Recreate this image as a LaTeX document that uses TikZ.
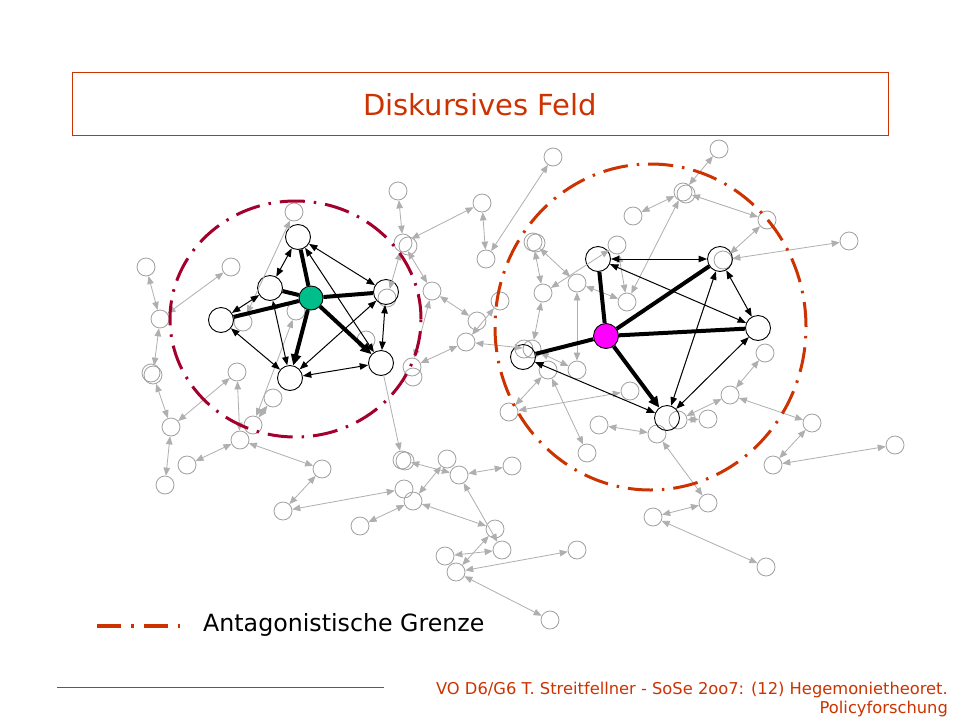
\documentclass[tikz,border=0pt]{standalone}
\usepackage{fontspec}
\setmainfont{DejaVu Sans}
\usetikzlibrary{arrows.meta}
\definecolor{orng}{RGB}{204,51,0}
\definecolor{crim}{RGB}{163,0,45}
\definecolor{gline}{RGB}{175,175,175}
\definecolor{gnod}{RGB}{160,160,160}
\definecolor{hubgreen}{RGB}{0,190,140}
\definecolor{hubmag}{RGB}{255,0,255}
\begin{document}
\begin{tikzpicture}[x=1pt,y=-1pt,
  gnode/.style={circle, draw=gnod, line width=0.8pt, minimum size=18pt, inner sep=0pt},
  bnode/.style={circle, draw=black, line width=0.9pt, minimum size=25pt, inner sep=0pt},
  hubnode/.style={circle, draw=black, line width=0.9pt, minimum size=24pt, inner sep=0pt},
  gedge/.style={draw=gline, line width=0.8pt, {Triangle[length=8pt,width=6.5pt]}-{Triangle[length=8pt,width=6.5pt]}},
  gedgeone/.style={draw=gline, line width=0.8pt, -{Triangle[length=8pt,width=6.5pt]}},
  tedge/.style={draw=black, line width=1pt, {Triangle[length=8.5pt,width=6.5pt]}-{Triangle[length=8.5pt,width=6.5pt]}},
  kedge/.style={draw=black, line width=4pt},
  kedgea/.style={draw=black, line width=4pt, -{Triangle[length=11pt,width=10pt]}},
  bound/.style={line width=3pt, dash pattern=on 25pt off 9pt on 2.5pt off 9pt},
  titlefont/.style={font=\fontsize{29pt}{34pt}\selectfont, text=orng},
  legendfont/.style={font=\fontsize{23.7pt}{28pt}\selectfont, text=black},
  footfont/.style={font=\fontsize{16.3pt}{19pt}\selectfont, text=orng}
]
\useasboundingbox (0,0) rectangle (960,720);
\fill[white] (0,0) rectangle (960,720);

% ---------- gray nodes ----------
\node[gnode] (a1) at (146,267) {};
\node[gnode] (a2) at (231,267) {};
\node[gnode] (a3) at (160,319) {};
\node[gnode] (a4) at (153,375) {};
\node[gnode] (a4x) at (151,373) {};
\node[gnode] (a5) at (171,427) {};
\node[gnode] (a6) at (165,485) {};
\node[gnode] (a7) at (237,372) {};
\node[gnode] (a8) at (273,398) {};
\node[gnode] (a9) at (253,425) {};
\node[gnode] (a10) at (240,440) {};
\node[gnode] (a11) at (187,465) {};
\node[gnode] (a12) at (322,469) {};
\node[gnode] (a13) at (283,511) {};
\node[gnode] (a14) at (294,212) {};
\node[gnode] (a15) at (243,322) {};
\node[gnode] (a16) at (296,311) {};
\node[gnode] (a17) at (387,298) {};
\node[gnode] (a18) at (366,340) {};
\node[gnode] (a19) at (412,367) {};
\node[gnode] (a19x) at (413,377) {};

\node[gnode] (m1) at (398,191) {};
\node[gnode] (m2) at (403,243) {};
\node[gnode] (m2x) at (408,246) {};
\node[gnode] (m3) at (482,203) {};
\node[gnode] (m4) at (486,259) {};
\node[gnode] (m5) at (432,291) {};
\node[gnode] (m6) at (477,321) {};
\node[gnode] (m7) at (466,342) {};
\node[gnode] (m8) at (500,301) {};
\node[gnode] (m9) at (402,460) {};
\node[gnode] (m9x) at (405,461) {};
\node[gnode] (m10) at (447,459) {};
\node[gnode] (m11) at (459,475) {};
\node[gnode] (m12) at (512,466) {};
\node[gnode] (m13) at (404,489) {};
\node[gnode] (m14) at (413,501) {};
\node[gnode] (m15) at (360,526) {};
\node[gnode] (m16) at (495,529) {};
\node[gnode] (m17) at (502,550) {};
\node[gnode] (m18) at (445,556) {};
\node[gnode] (m19) at (456,572) {};
\node[gnode] (m20) at (577,550) {};
\node[gnode] (m21) at (550,620) {};

\node[gnode] (r1) at (553,157) {};
\node[gnode] (r2) at (719,149) {};
\node[gnode] (r3) at (683,192) {};
\node[gnode] (r3x) at (686,194) {};
\node[gnode] (r4) at (633,216) {};
\node[gnode] (r5) at (767,220) {};
\node[gnode] (r6) at (849,241) {};
\node[gnode] (r7) at (723,260) {};
\node[gnode] (r8) at (533,242) {};
\node[gnode] (r8x) at (536,243) {};
\node[gnode] (r9) at (617,245) {};
\node[gnode] (r10) at (543,293) {};
\node[gnode] (r11) at (577,283) {};
\node[gnode] (r12) at (627,302) {};
\node[gnode] (r13) at (524,349) {};
\node[gnode] (r13x) at (532,349) {};
\node[gnode] (r14) at (548,370) {};
\node[gnode] (r15) at (577,370) {};
\node[gnode] (r16) at (630,391) {};
\node[gnode] (r17) at (509,412) {};
\node[gnode] (r18) at (730,395) {};
\node[gnode] (r19) at (765,353) {};
\node[gnode] (r20) at (599,425) {};
\node[gnode] (r21) at (657,434) {};
\node[gnode] (r22) at (678,420) {};
\node[gnode] (r23) at (708,419) {};
\node[gnode] (r24) at (587,453) {};
\node[gnode] (r25) at (812,423) {};
\node[gnode] (r26) at (773,465) {};
\node[gnode] (r27) at (895,445) {};
\node[gnode] (r28) at (708,503) {};
\node[gnode] (r29) at (653,517) {};
\node[gnode] (r30) at (766,567) {};

% ---------- black nodes ----------
\node[bnode] (lt) at (298,237) {};
\node[bnode] (lul) at (270,288) {};
\node[bnode] (ll) at (221,320) {};
\node[hubnode, fill=hubgreen] (lc) at (311,298) {};
\node[bnode] (lr) at (386,292) {};
\node[bnode] (lbr) at (381,363) {};
\node[bnode] (lb) at (290,378) {};

\node[bnode] (pl) at (598,259) {};
\node[bnode] (pr) at (720,259) {};
\node[bnode] (rr) at (758,328) {};
\node[bnode, fill=hubmag] (rc) at (606,336) {};
\node[bnode] (lln) at (523,357) {};
\node[bnode] (bb) at (667,418) {};

% ---------- gray edges ----------
\foreach \p/\q in {a1/a3, a2/a3, a3/a4, a4/a5, a5/a6, a7/a5, a7/a10, a10/a11, a10/a12,
  a12/a13, a13/m13, a14/a15, a16/a9, a8/a9,
  m1/m2, m3/m2, m3/m4, r1/m4, m2/m5, m2/a17, m5/m6, m5/a19, m7/a19, m8/m7, m7/r13x,
  m9/m11, m11/m12, m11/m17, m15/m14, m14/m10, m14/m16, m16/m19, m18/m17, m19/m20, m19/m21,
  r2/r3, r3/r4, r3/r5, r5/r7, r6/r7, r3/r12, r8/r10, r8/r11, r9/r12, r9/r10, r11/r15,
  r11/r12, r10/r13x, r13x/r15, r14/r17, r14/r24, r16/r17, r20/r21, r22/r23, r22/r18,
  r19/r18, r18/r25, r25/r26, r26/r27, r21/r28, r28/r29, r29/r30}
  {\draw[gedge] (\p) -- (\q);}
\draw[gedgeone] (lbr) -- (m9);

% ---------- boundaries ----------
\node[minimum size=0pt, inner sep=0pt] (lcen) at (295.5,319) {};
\node[minimum size=0pt, inner sep=0pt] (rcen) at (650.5,327) {};
\draw[bound, crim] (lcen) ellipse [x radius=125.5pt, y radius=118pt];
\draw[bound, orng] (rcen) ellipse [x radius=155.5pt, y radius=163pt];

% ---------- black edges, left ----------
\draw[kedge] (lc) -- (lt);
\draw[kedge] (lc) -- (lul);
\draw[kedge] (lc) -- (ll);
\draw[kedge] (lc) -- (lr);
\draw[kedgea] (lc) -- (lb);
\draw[kedgea] (lc) -- (lbr);
\foreach \p/\q in {lt/lul, lt/lr, lt/lbr, lul/ll, lul/lb, ll/lb, lb/lbr, lb/lr, lr/lbr}
  {\draw[tedge] (\p) -- (\q);}

% ---------- black edges, right ----------
\draw[kedge] (rc) -- (pl);
\draw[kedge] (rc) -- (pr);
\draw[kedge] (rc) -- (rr);
\draw[kedge] (rc) -- (lln);
\draw[kedgea] (rc) -- (bb);
\foreach \p/\q in {pl/pr, pl/rr, pr/rr, pr/bb, rr/bb, lln/bb}
  {\draw[tedge] (\p) -- (\q);}

% ---------- title ----------
\node[draw=orng, line width=1pt, minimum width=816pt, minimum height=63pt, inner sep=0pt] (tbox) at (480,103.5) {};
\node[titlefont, anchor=base] (ttext) at (480,115) {Diskursives Feld};

% ---------- legend ----------
\coordinate (lg1) at (97,626);
\coordinate (lg2) at (180,626);
\draw[orng, line width=3.5pt, dash pattern=on 24pt off 10pt on 2.5pt off 10pt] (lg1) -- (lg2);
\node[legendfont, anchor=base west, inner sep=0pt] (ltext) at (203,631) {Antagonistische Grenze};

% ---------- footer ----------
\coordinate (f1) at (57,687);
\coordinate (f2) at (384,687);
\draw[orng, line width=1pt] (f1) -- (f2);
\node[footfont, anchor=base east, inner sep=0pt] (ft1) at (948,694) {VO D6/G6 T. Streitfellner - SoSe 2oo7: (12) Hegemonietheoret.};
\node[footfont, anchor=base east, inner sep=0pt] (ft2) at (948,713) {Policyforschung};
\end{tikzpicture}
\end{document}
